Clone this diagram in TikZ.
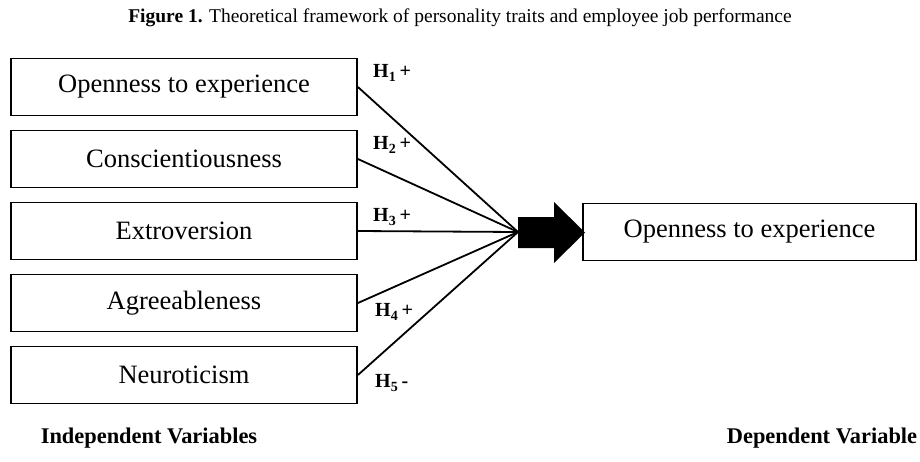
\documentclass[tikz,border=0pt]{standalone}
\usepackage{fontspec}
\setmainfont{Liberation Serif}
\begin{document}
\begin{tikzpicture}[x=1pt,y=-1pt,
  varbox/.style={draw,line width=1.8pt,minimum width=346pt,minimum height=57pt,inner sep=0pt,font=\fontsize{26.5}{30}\selectfont},
  hyp/.style={anchor=west,inner sep=0pt,font=\fontsize{20}{22}\selectfont\bfseries},
  link/.style={line width=1.8pt}]
\useasboundingbox (0,0) rectangle (920,461);
\node[inner sep=0pt,font=\fontsize{19.5}{21}\selectfont] (title) at (460,18) {\textbf{Figure 1.} Theoretical framework of personality traits and employee job performance};
\node[varbox] (o) at (184,87) {Openness to experience};
\node[varbox] (c) at (184,159) {Conscientiousness};
\node[varbox] (e) at (184,231) {Extroversion};
\node[varbox] (a) at (184,303) {Agreeableness};
\node[varbox] (n) at (184,375) {Neuroticism};
\node[varbox,minimum width=333pt] (dv) at (749.5,232) {Openness to experience};
\coordinate (m) at (518,232);
\foreach \b in {o,c,e,a,n} \draw[link] (\b.east) -- (m);
\fill (518,217) -- (554,217) -- (554,202) -- (585,232.5) -- (554,263) -- (554,248) -- (518,248) -- cycle;
\node[hyp] (h1) at (373,73) {H\textsubscript{1}\,+};
\node[hyp] (h2) at (373,145) {H\textsubscript{2}\,+};
\node[hyp] (h3) at (373,217) {H\textsubscript{3}\,+};
\node[hyp] (h4) at (375,312) {H\textsubscript{4}\,+};
\node[hyp] (h5) at (375,383) {H\textsubscript{5}\,-};
\node[inner sep=0pt,font=\fontsize{22.4}{24}\selectfont\bfseries] (iv) at (149,438) {Independent Variables};
\node[inner sep=0pt,font=\fontsize{22.4}{24}\selectfont\bfseries] (dvl) at (822,438) {Dependent Variable};
\end{tikzpicture}
\end{document}
